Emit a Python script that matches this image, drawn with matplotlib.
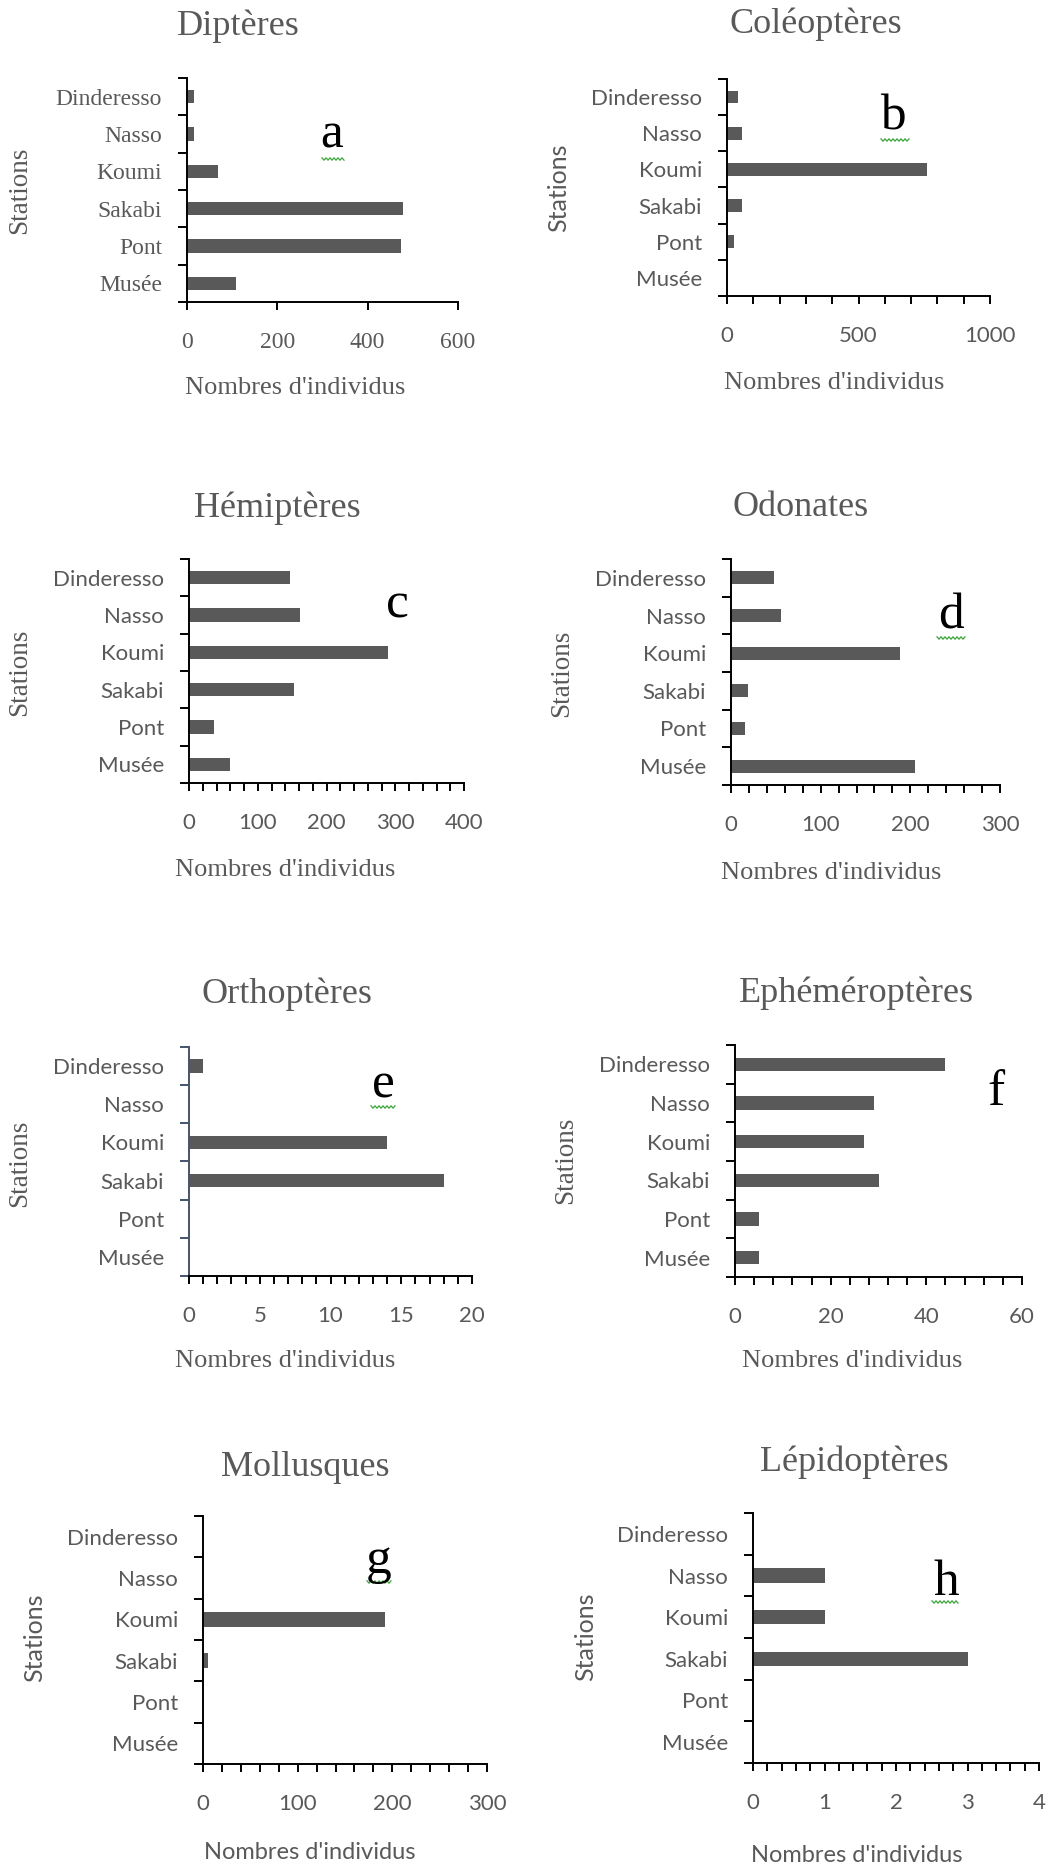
import matplotlib
matplotlib.use("Agg")
import matplotlib.pyplot as plt
from matplotlib.ticker import FixedLocator, MultipleLocator, NullFormatter, NullLocator
import numpy as np

# ---- data -------------------------------------------------------------
stations = ["Dinderesso", "Nasso", "Koumi", "Sakabi", "Pont", "Musée"]

dipteres = [15, 15, 69, 478, 474, 108]
coleopteres = [40, 57, 759, 57, 25, 0]
hemipteres = [147, 162, 290, 153, 36, 60]
odonates = [48, 56, 189, 19, 16, 205]
orthopteres = [1, 0, 14, 18, 0, 0]
ephemeropteres = [44, 29, 27, 30, 5, 5]
mollusques = [0, 0, 192, 5, 0, 0]
lepidopteres = [0, 1, 1, 3, 0, 0]

titles = ["Diptères", "Coléoptères", "Hémiptères", "Odonates",
          "Orthoptères", "Ephéméroptères", "Mollusques", "Lépidoptères"]
letters = ["a", "b", "c", "d", "e", "f", "g", "h"]
series = [dipteres, coleopteres, hemipteres, odonates,
          orthopteres, ephemeropteres, mollusques, lepidopteres]
x_max = [600, 1000, 400, 300, 20, 60, 300, 4]
x_major = [200, 500, 100, 100, 5, 20, 100, 1]
x_minor = [None, 100, 20, 20, 1, 4, 20, 0.2]

# ---- layout (pixels in a 1048 x 1867 canvas) -------------------------
W, H = 1048, 1867
DPI = 100

# axes box: left, right, top, bottom
boxes = [(187, 458, 78, 302), (727, 990, 79, 296),
         (189, 464, 559, 783), (731, 1000, 559, 785),
         (189, 472, 1047, 1276), (735, 1022, 1045, 1277),
         (203, 487, 1516, 1764), (753, 1039, 1513, 1763)]
title_pos = [(238, 35), (816, 33), (277, 517), (801, 516),
             (287, 1003), (856, 1002), (305, 1476), (854, 1471)]
letter_pos = [(332, 148), (893, 130), (397, 617), (951, 628),
              (383, 1097), (996, 1105), (379, 1573), (946, 1595)]
squiggles = [(322, 345, 159), (881, 909, 140), None, (937, 966, 638),
             (371, 395, 1107), None, (367, 392, 1582), (932, 959, 1602)]
ylabel_pos = [(20, 190), (559, 188), (20, 672), (562, 673),
              (20, 1163), (566, 1160), (35, 1638), (586, 1637)]
xlabel_pos = [(295, 388), (834, 383), (285, 870), (831, 873),
              (285, 1361), (852, 1361), (310, 1852), (857, 1855)]

SERIF = "Liberation Serif"
SANS = "Lato"
tick_serif = [True, False, False, False, False, False, False, False]
ylabel_serif = [True, False, True, True, True, True, False, False]
xlabel_serif = [True, True, True, True, True, True, False, False]
yaxis_color = ["black"] * 4 + ["#44546A"] + ["black"] * 3

BAR = "#595959"
TEXT = "#595959"
LW = 1.4


def fx(px):
    return px / W


def fy(py):
    return 1 - py / H


fig = plt.figure(figsize=(W / DPI, H / DPI), dpi=DPI)
fig.patch.set_facecolor("white")

ypos = np.arange(len(stations))[::-1]

for i in range(8):
    x0, x1, yt, yb = boxes[i]
    ax = fig.add_axes([fx(x0), fy(yb), (x1 - x0) / W, (yb - yt) / H])
    ax.barh(ypos, series[i], height=0.35, color=BAR, zorder=2)
    ax.set_xlim(0, x_max[i])
    ax.set_ylim(-0.5, len(stations) - 0.5)

    for side in ("top", "right"):
        ax.spines[side].set_visible(False)
    ax.spines["bottom"].set_linewidth(LW)
    ax.spines["left"].set_linewidth(LW)
    ax.spines["left"].set_color(yaxis_color[i])

    # category boundaries carry the tick marks, centres carry the names
    tfont = SERIF if tick_serif[i] else SANS
    tsize = 17 if tick_serif[i] else 16
    ax.yaxis.set_major_locator(FixedLocator(np.arange(-0.5, len(stations), 1.0)))
    ax.yaxis.set_major_formatter(NullFormatter())
    ax.set_yticks(ypos, stations, minor=True, fontfamily=tfont,
                  fontsize=tsize, color=TEXT)
    ax.tick_params(axis="y", which="major", length=6.5, width=LW,
                   direction="out", color=yaxis_color[i])
    ax.tick_params(axis="y", which="minor", length=0, pad=18)

    ax.set_xticks(np.arange(0, x_max[i] + 1e-9, x_major[i]))
    ax.set_xticklabels([f"{v:g}" for v in np.arange(0, x_max[i] + 1e-9, x_major[i])],
                       fontfamily=tfont, fontsize=tsize, color=TEXT)
    if x_minor[i]:
        ax.xaxis.set_minor_locator(MultipleLocator(x_minor[i]))
    else:
        ax.xaxis.set_minor_locator(NullLocator())
    ax.tick_params(axis="x", which="both", length=5.5, width=LW,
                   direction="out", pad=16)

    # panel title
    tx, ty = title_pos[i]
    fig.text(fx(tx), fy(ty), titles[i], ha="center", va="baseline",
             fontfamily=SERIF, fontsize=26, color=TEXT)

    # panel letter
    lx, ly = letter_pos[i]
    fig.text(fx(lx), fy(ly), letters[i], ha="center", va="baseline",
             fontfamily=SERIF, fontsize=37, color="black")
    if squiggles[i]:
        sx0, sx1, sy = squiggles[i]
        xs = np.arange(sx0, sx1 + 0.1, 2.0)
        ys = sy + np.where(np.arange(len(xs)) % 2 == 0, -1.2, 1.2)
        fig.add_artist(plt.Line2D(fx(xs), fy(ys), color="#3aa63a", lw=0.9))

    # axis titles
    yx, yy = ylabel_pos[i]
    fig.text(fx(yx), fy(yy), "Stations", rotation=90, ha="center", va="center",
             fontfamily=SERIF if ylabel_serif[i] else SANS,
             fontsize=19.5 if ylabel_serif[i] else 18, color=TEXT)
    xx, xy = xlabel_pos[i]
    fig.text(fx(xx), fy(xy), "Nombres d'individus", ha="center", va="center",
             fontfamily=SERIF if xlabel_serif[i] else SANS,
             fontsize=19 if xlabel_serif[i] else 17, color=TEXT)

fig.savefig("out.png", dpi=DPI, facecolor="white")
